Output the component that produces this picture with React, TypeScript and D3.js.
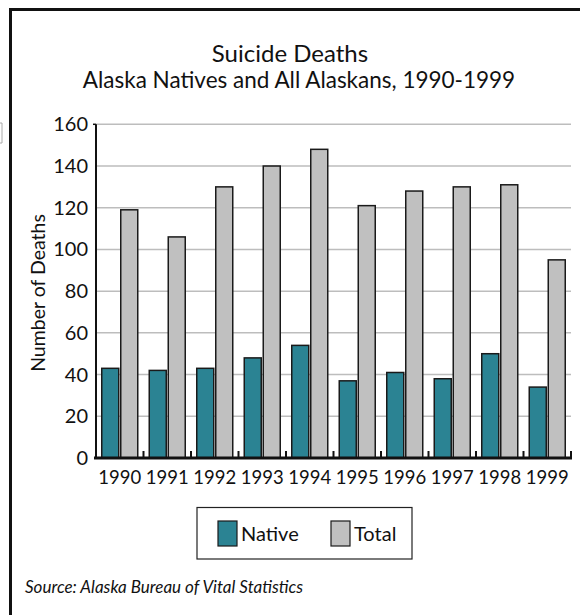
import React from "react";
import * as d3 from "d3";

const years = ["1990", "1991", "1992", "1993", "1994", "1995", "1996", "1997", "1998", "1999"];
const nativeDeaths = [43, 42, 43, 48, 54, 37, 41, 38, 50, 34];
const totalDeaths = [119, 106, 130, 140, 148, 121, 128, 130, 131, 95];
const yTicks = [0, 20, 40, 60, 80, 100, 120, 140, 160];
const seriesNames = ["Native", "Total"];
const seriesColors = ["#2b8393", "#c0c0c0"];

const FONT = "Lato, 'Noto Sans', sans-serif";

export default function App() {
  const W = 580, H = 615;
  const left = 96, right = 571, top = 124.3, bottom = 458;
  const x = d3.scaleBand<string>().domain(years).range([left, right]).paddingInner(0).paddingOuter(0);
  const y = d3.scaleLinear().domain([0, 160]).range([bottom, top]);
  const bw = x.bandwidth();
  const barW = 17;
  const gap = 2;
  const offset = (bw - (2 * barW + gap)) / 2;

  return (
    <svg width={W} height={H} style={{ position: "absolute", left: 0, top: 0 }} fontFamily={FONT}>
      <rect x={0} y={0} width={W} height={H} fill="#fff" />
      <path d={`M10.5,${H} L10.5,9.5 L${W},9.5`} fill="none" stroke="#111" strokeWidth={3} />
      <path d="M0,123 L2,123 L2,143 L0,143" fill="none" stroke="#aaa" strokeWidth={1} />

      <text x={290} y={62} textAnchor="middle" fontSize={24} fill="#111">Suicide Deaths</text>
      <text x={299} y={88} textAnchor="middle" fontSize={22.5} fill="#111">Alaska Natives and All Alaskans, 1990-1999</text>

      {yTicks.filter((t) => t > 0).map((t) => (
        <line key={t} x1={left} x2={right} y1={y(t)} y2={y(t)} stroke="#bdbdbd" strokeWidth={1.5} />
      ))}

      {years.map((yr, i) => {
        const x0 = (x(yr) as number) + offset;
        return (
          <g key={yr}>
            <rect x={x0} y={y(nativeDeaths[i])} width={barW} height={bottom - y(nativeDeaths[i])}
              fill={seriesColors[0]} stroke="#1a1a1a" strokeWidth={1.5} />
            <rect x={x0 + barW + gap} y={y(totalDeaths[i])} width={barW} height={bottom - y(totalDeaths[i])}
              fill={seriesColors[1]} stroke="#1a1a1a" strokeWidth={1.5} />
          </g>
        );
      })}

      <line x1={left} x2={left} y1={top} y2={bottom} stroke="#111" strokeWidth={2} />
      <line x1={left - 3} x2={left} y1={top} y2={top} stroke="#111" strokeWidth={1.5} />
      {yTicks.map((t) => (
        <text key={t} x={88} y={y(t) + 7} textAnchor="end" fontSize={20} fill="#111">{t}</text>
      ))}
      <text transform={`translate(45,293) rotate(-90)`} textAnchor="middle" fontSize={19.5} fill="#111">Number of Deaths</text>

      <line x1={left - 2} x2={right + 1} y1={bottom} y2={bottom} stroke="#111" strokeWidth={3} />
      {years.map((yr) => (
        <line key={"t" + yr} x1={(x(yr) as number) + bw} x2={(x(yr) as number) + bw} y1={bottom} y2={bottom - 7}
          stroke="#111" strokeWidth={2} />
      ))}
      {years.map((yr) => (
        <text key={"l" + yr} x={(x(yr) as number) + bw / 2} y={484} textAnchor="middle" fontSize={18.5} fill="#111">{yr}</text>
      ))}

      <rect x={197} y={507.5} width={215} height={51.5} fill="#fff" stroke="#222" strokeWidth={1.2} />
      {seriesNames.map((s, i) => {
        const sx = i === 0 ? 218 : 331;
        return (
          <g key={s}>
            <rect x={sx} y={521} width={19} height={25} fill={seriesColors[i]} stroke="#1a1a1a" strokeWidth={1.2} />
            <text x={sx + 23} y={541} fontSize={20} fill="#111">{s}</text>
          </g>
        );
      })}

      <text x={25} y={593} fontSize={17} fontStyle="italic" fill="#111">Source: Alaska Bureau of Vital Statistics</text>
    </svg>
  );
}
